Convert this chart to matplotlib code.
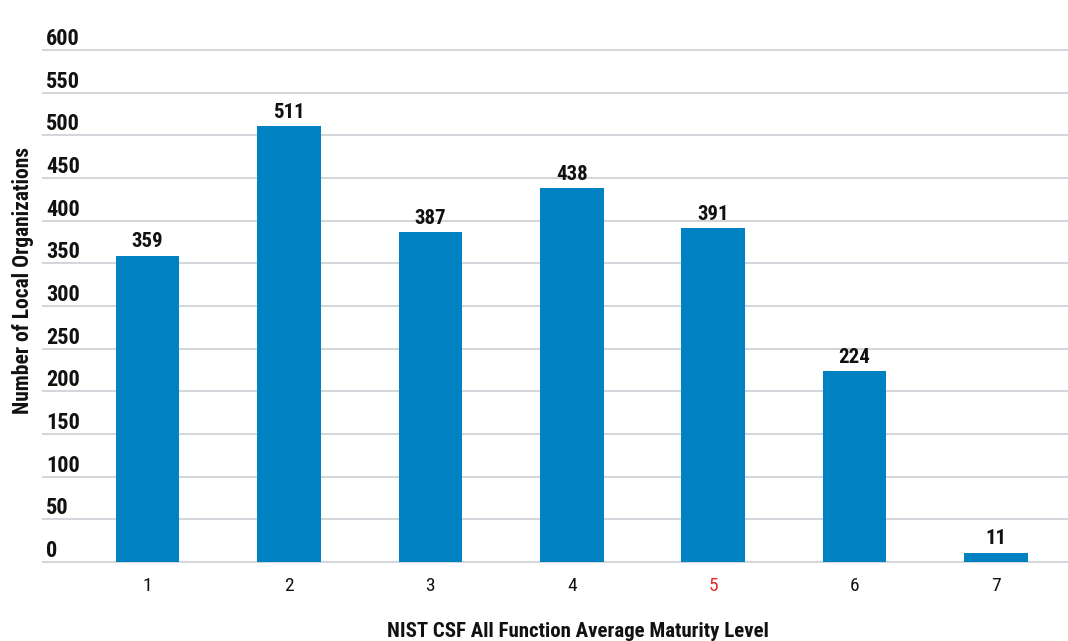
import matplotlib
matplotlib.use("Agg")
import matplotlib.pyplot as plt
from matplotlib.transforms import blended_transform_factory, offset_copy

levels = [1, 2, 3, 4, 5, 6, 7]
counts = [359, 511, 387, 438, 391, 224, 11]
level_labels = ["1", "2", "3", "4", "5", "6", "7"]
yticks = list(range(0, 601, 50))

plt.rcParams["font.family"] = ["Roboto Condensed", "DejaVu Sans"]

BAR = "#0081c1"
GRID = "#d3d6da"
INK = "#111111"

fig = plt.figure(figsize=(10.68, 6.41), dpi=100)
ax = fig.add_axes([0.0403, 0.1232, 0.9597, 0.7988])

ax.bar(levels, counts, width=0.45, color=BAR, zorder=2)
ax.set_xlim(0.26, 7.51)
ax.set_ylim(0, 600)

for y in yticks:
    ax.axhline(y, color=GRID, lw=1.5, zorder=1, clip_on=False)

# y tick labels sit just above their gridlines
trans = offset_copy(blended_transform_factory(ax.transAxes, ax.transData),
                    fig=fig, x=3, y=5, units="dots")
for y in yticks:
    ax.text(0.0, y, str(y), transform=trans, ha="left", va="baseline",
            fontsize=16, fontweight="bold", color=INK)

for x, v in zip(levels, counts):
    ax.annotate(str(v), (x, v), xytext=(0, 3), textcoords="offset points",
                ha="center", va="bottom", fontsize=15, fontweight="bold",
                color=INK)

ax.set_xticks(levels)
ax.set_xticklabels(level_labels, fontsize=14)
ax.tick_params(axis="x", length=0, pad=11, colors=INK)
ax.get_xticklabels()[4].set_color("#e8262e")
ax.set_yticks([])
for s in ax.spines.values():
    s.set_visible(False)

fig.text(0.541, 0.0065, "NIST CSF All Function Average Maturity Level",
         ha="center", va="baseline", fontsize=15, fontweight="bold", color=INK)
fig.text(0.022, 0.563, "Number of Local Organizations", rotation=90,
         ha="center", va="center", fontsize=15.5, fontweight="bold", color=INK)

fig.savefig("out.png", dpi=100)
